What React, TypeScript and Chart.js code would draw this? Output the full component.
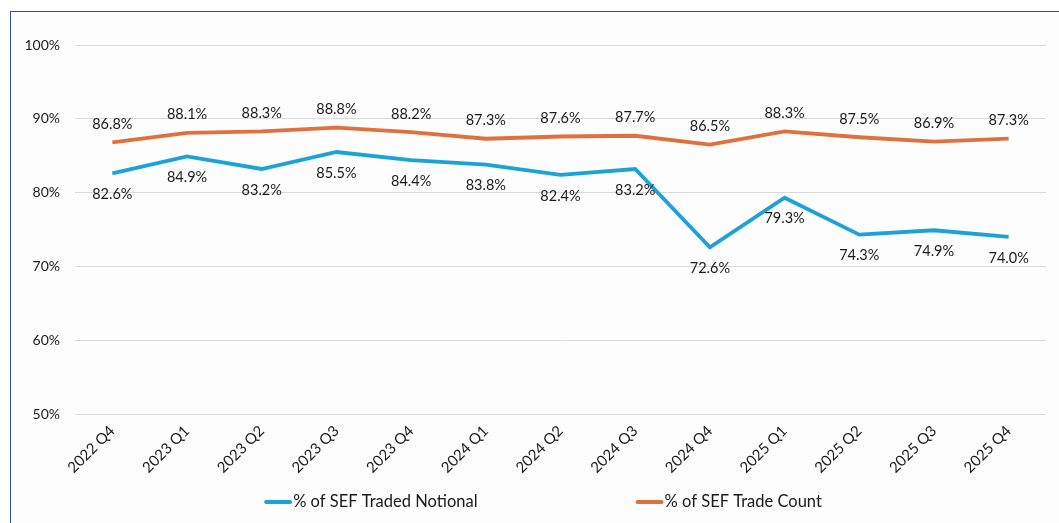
import React, { useEffect, useRef } from "react";
import { Chart, registerables } from "chart.js";

Chart.register(...registerables);

const categories = [
  "2022 Q4", "2023 Q1", "2023 Q2", "2023 Q3", "2023 Q4", "2024 Q1", "2024 Q2",
  "2024 Q3", "2024 Q4", "2025 Q1", "2025 Q2", "2025 Q3", "2025 Q4",
];
const notionalPct = [82.6, 84.9, 83.2, 85.5, 84.4, 83.8, 82.4, 83.2, 72.6, 79.3, 74.3, 74.9, 74.0];
const tradeCountPct = [86.8, 88.1, 88.3, 88.8, 88.2, 87.3, 87.6, 87.7, 86.5, 88.3, 87.5, 86.9, 87.3];
const seriesNames = ["% of SEF Traded Notional", "% of SEF Trade Count"];
const yTicks = [50, 60, 70, 80, 90, 100];

const BLUE = "#1BA3D9";
const ORANGE = "#E0703F";
const FONT = "Lato, 'Open Sans', sans-serif";

const valueLabels = {
  id: "valueLabels",
  afterDatasetsDraw(chart: any) {
    const ctx = chart.ctx;
    ctx.save();
    ctx.font = `14.5px ${FONT}`;
    ctx.fillStyle = "#1a1a1a";
    ctx.textAlign = "center";
    ctx.textBaseline = "middle";
    chart.data.datasets.forEach((ds: any, di: number) => {
      const meta = chart.getDatasetMeta(di);
      meta.data.forEach((pt: any, i: number) => {
        const dy = di === 0 ? 21 : -18;
        ctx.fillText(Number(ds.data[i]).toFixed(1) + "%", pt.x, pt.y + dy);
      });
    });
    ctx.restore();
  },
};

const bottomLegend = {
  id: "bottomLegend",
  afterDraw(chart: any) {
    const ctx = chart.ctx;
    ctx.save();
    ctx.font = `16.5px ${FONT}`;
    ctx.textBaseline = "middle";
    ctx.textAlign = "left";
    const y = 502;
    const lineW = 28;
    const gap = 158;
    const items = chart.data.datasets.map((ds: any) => ({
      text: ds.label,
      color: ds.borderColor,
      w: lineW + 1 + ctx.measureText(ds.label).width,
    }));
    const total = items.reduce((s: number, it: any) => s + it.w, 0) + gap * (items.length - 1);
    let x = 543 - total / 2;
    items.forEach((it: any) => {
      ctx.strokeStyle = it.color;
      ctx.lineWidth = 4;
      ctx.lineCap = "round";
      ctx.beginPath();
      ctx.moveTo(x + 2, y);
      ctx.lineTo(x + lineW - 2, y);
      ctx.stroke();
      ctx.fillStyle = "#1a1a1a";
      ctx.fillText(it.text, x + lineW + 1, y);
      x += it.w + gap;
    });
    ctx.restore();
  },
};

export default function App() {
  const ref = useRef<HTMLCanvasElement | null>(null);

  useEffect(() => {
    if (!ref.current) return;
    const chart = new Chart(ref.current, {
      type: "line",
      data: {
        labels: categories,
        datasets: [
          {
            label: seriesNames[0],
            data: notionalPct,
            borderColor: BLUE,
            backgroundColor: BLUE,
            borderWidth: 3.8,
            pointRadius: 0,
            tension: 0,
          },
          {
            label: seriesNames[1],
            data: tradeCountPct,
            borderColor: ORANGE,
            backgroundColor: ORANGE,
            borderWidth: 3.8,
            pointRadius: 0,
            tension: 0,
          },
        ],
      },
      options: {
        animation: false,
        responsive: false,
        layout: { padding: { left: 0, right: 13, top: 45, bottom: 39 } },
        plugins: {
          legend: { display: false },
          tooltip: { enabled: false },
        },
        scales: {
          x: {
            offset: true,
            grid: { display: false, drawTicks: false },
            border: { display: false },
            ticks: {
              minRotation: 45,
              maxRotation: 45,
              padding: 8,
              color: "#1a1a1a",
              font: { family: FONT, size: 15 },
            },
            afterFit: (s: any) => {
              s.height = 70;
            },
          },
          y: {
            min: 50,
            max: 100,
            afterBuildTicks: (s: any) => {
              s.ticks = yTicks.map((v) => ({ value: v }));
            },
            grid: { color: "#d9d9d9", lineWidth: 1, drawTicks: false },
            border: { display: false },
            ticks: {
              padding: 15,
              color: "#1a1a1a",
              font: { family: FONT, size: 14 },
              callback: (v: any) => v + "%",
            },
            afterFit: (s: any) => {
              s.width = 75;
            },
          },
        },
      },
      plugins: [valueLabels, bottomLegend],
    });
    return () => chart.destroy();
  }, []);

  return (
    <div>
      <div
        style={{
          position: "fixed",
          left: 10,
          top: 11,
          width: 1200,
          height: 700,
          borderLeft: "1.5px solid #2E4FA3",
          borderTop: "1.5px solid #2E4FA3",
          background: "#fdfdfd",
        }}
      />
      <canvas
        ref={ref}
        width={1059}
        height={523}
        style={{ position: "fixed", left: 0, top: 0, width: 1059, height: 523 }}
      />
    </div>
  );
}
